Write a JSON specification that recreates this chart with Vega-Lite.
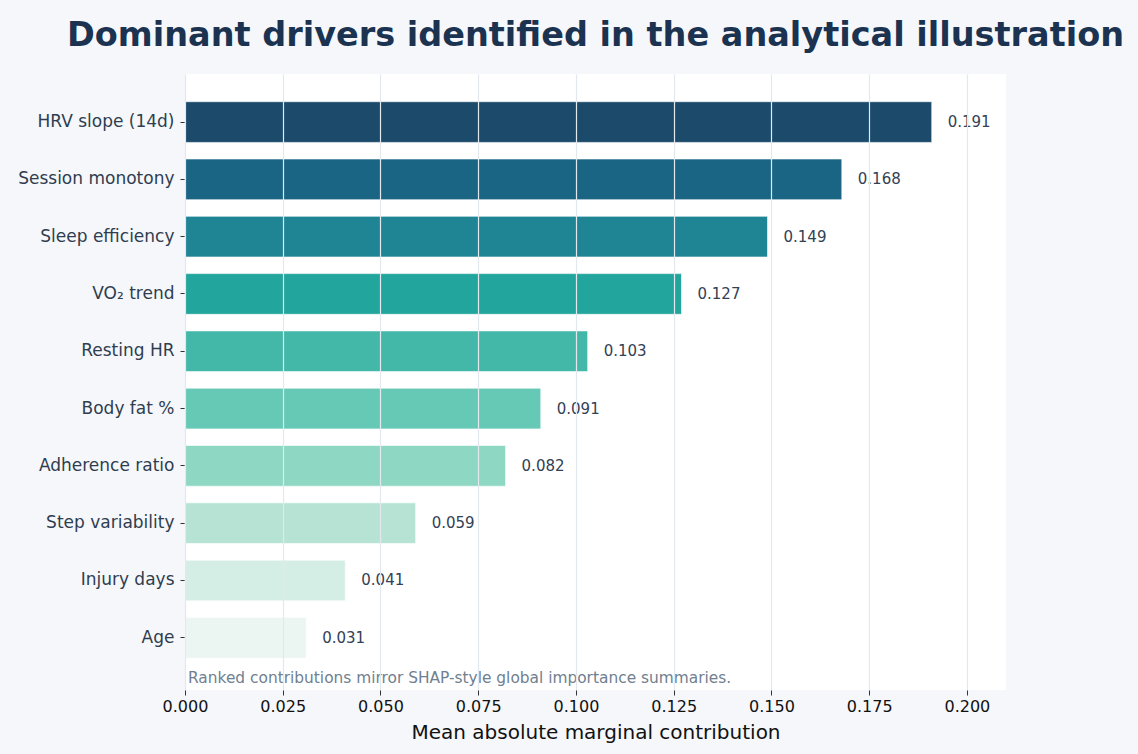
{
  "$schema": "https://vega.github.io/schema/vega-lite/v6.json",
  "width": 821,
  "height": 616,
  "autosize": {"type": "none"},
  "padding": {"left": 185, "top": 74, "right": 132, "bottom": 64},
  "background": "#f5f7fb",
  "config": {
    "font": "DejaVu Sans",
    "view": {"fill": "white", "stroke": null}
  },
  "title": {
    "text": "Dominant drivers identified in the analytical illustration",
    "fontSize": 33.5,
    "fontWeight": "bold",
    "color": "#1b3350",
    "anchor": "middle",
    "baseline": "alphabetic",
    "offset": 28,
    "dy": 33,
    "font": "DejaVu Sans"
  },
  "datasets": {
    "drivers": [
      {"feature": "HRV slope (14d)", "value": 0.191},
      {"feature": "Session monotony", "value": 0.168},
      {"feature": "Sleep efficiency", "value": 0.149},
      {"feature": "VO₂ trend", "value": 0.127},
      {"feature": "Resting HR", "value": 0.103},
      {"feature": "Body fat %", "value": 0.091},
      {"feature": "Adherence ratio", "value": 0.082},
      {"feature": "Step variability", "value": 0.059},
      {"feature": "Injury days", "value": 0.041},
      {"feature": "Age", "value": 0.031}
    ],
    "note": [
      {"note": "Ranked contributions mirror SHAP-style global importance summaries.", "feature": "Age", "start": 0}
    ]
  },
  "encoding": {
    "y": {
      "field": "feature",
      "type": "nominal",
      "sort": null,
      "scale": {
        "domain": ["HRV slope (14d)", "Session monotony", "Sleep efficiency", "VO₂ trend", "Resting HR", "Body fat %", "Adherence ratio", "Step variability", "Injury days", "Age"],
        "paddingInner": 0.29,
        "paddingOuter": 0.52,
        "align": 0.465
      },
      "axis": {
        "title": null,
        "domain": false,
        "grid": false,
        "ticks": true,
        "tickSize": 5,
        "tickColor": "#333333",
        "tickWidth": 1,
        "labelFontSize": 17,
        "labelColor": "#2f3d4f",
        "labelPadding": 6,
        "labelFont": "DejaVu Sans"
      }
    }
  },
  "layer": [
    {
      "data": {"name": "drivers"},
      "mark": {"type": "bar", "stroke": "white", "strokeWidth": 1, "strokeOpacity": 0.6},
      "encoding": {
        "x": {
          "field": "value",
          "type": "quantitative",
          "scale": {"domain": [0, 0.21], "nice": false, "zero": true},
          "axis": {
            "title": "Mean absolute marginal contribution",
            "titleFontSize": 20,
            "titleFontWeight": "normal",
            "titleColor": "#111111",
            "titlePadding": 8,
            "titleFont": "DejaVu Sans",
            "values": [0, 0.025, 0.05, 0.075, 0.1, 0.125, 0.15, 0.175, 0.2],
            "format": ".3f",
            "domain": false,
            "ticks": true,
            "tickSize": 5,
            "tickColor": "#333333",
            "labelFontSize": 16,
            "labelColor": "#111111",
            "labelPadding": 3,
            "labelFlush": false,
            "labelFont": "DejaVu Sans",
            "grid": true,
            "gridColor": "#e3e7ee",
            "gridWidth": 1.2,
            "zindex": 1
          }
        },
        "color": {
          "field": "feature",
          "type": "nominal",
          "legend": null,
          "scale": {
            "domain": ["HRV slope (14d)", "Session monotony", "Sleep efficiency", "VO₂ trend", "Resting HR", "Body fat %", "Adherence ratio", "Step variability", "Injury days", "Age"],
            "range": ["#1b4a6b", "#1b6584", "#1f8494", "#22a59c", "#43b8a9", "#66c9b6", "#8dd7c3", "#b6e3d4", "#d5eee5", "#ebf5f1"]
          }
        }
      }
    },
    {
      "data": {"name": "drivers"},
      "mark": {"type": "text", "align": "left", "baseline": "middle", "dx": 16, "fontSize": 15, "color": "#334155", "font": "DejaVu Sans"},
      "encoding": {
        "x": {"field": "value", "type": "quantitative"},
        "text": {"field": "value", "type": "quantitative", "format": ".3f"}
      }
    },
    {
      "data": {"name": "note"},
      "mark": {"type": "text", "align": "left", "baseline": "middle", "dx": 3, "dy": 40, "fontSize": 15.4, "color": "#708090", "font": "DejaVu Sans"},
      "encoding": {
        "x": {"field": "start", "type": "quantitative"},
        "text": {"field": "note", "type": "nominal"}
      }
    }
  ]
}
